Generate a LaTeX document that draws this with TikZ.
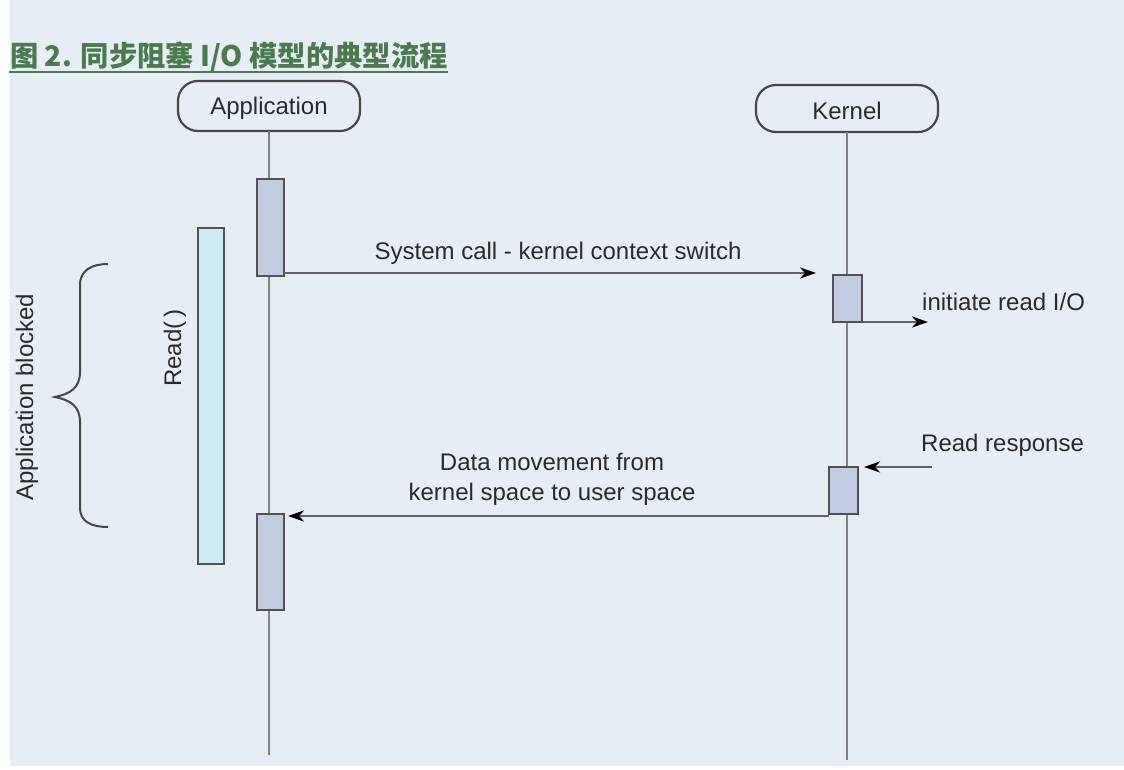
\documentclass[tikz,border=0pt]{standalone}
\usepackage{fontspec}
\setmainfont{Liberation Sans}
\newfontfamily\cjk{Noto Sans CJK SC}
\usetikzlibrary{arrows.meta}
\definecolor{bg}{HTML}{E6EDF4}
\definecolor{actfill}{HTML}{C1CBE1}
\definecolor{readfill}{HTML}{CDEBF2}
\definecolor{titlegreen}{HTML}{4A7A4E}
\definecolor{txt}{HTML}{2A2A2A}
\begin{document}
\begin{tikzpicture}[x=1pt,y=-1pt,
  lbl/.style={font=\fontsize{24}{30}\selectfont, text=txt, inner sep=0pt},
  life/.style={draw=black!50, line width=2.4pt},
  actbox/.style={draw=black!68, fill=actfill, line width=2.2pt, minimum width=27pt, inner sep=0pt, outer sep=0pt},
  msg/.style={draw=black!62, line width=2.4pt, -{Stealth[length=16pt,width=11pt,inset=5pt,color=black,fill=black]}},
  headbox/.style={draw=black!72, line width=2.2pt, rounded corners=20pt, fill=bg, minimum width=182pt, inner sep=0pt, outer sep=0pt, font=\fontsize{24}{30}\selectfont, text=txt},
  bracestyle/.style={draw=black!72, line width=2pt}
]
\useasboundingbox (0,0) rectangle (1124,770);
\fill[white] (0,0) rectangle (1124,770);
\fill[bg] (10,0) rectangle (1124,766);

% title
\node[anchor=base west, text=titlegreen, font=\cjk\bfseries\fontsize{28.3}{32}\selectfont, inner sep=0pt] (title) at (10,67) {图 2. 同步阻塞 I/O 模型的典型流程};
\draw[titlegreen, line width=2.2pt] ([xshift=-1pt,yshift=-5pt]title.base west) -- ([yshift=-5pt]title.base east);

% heads
\node[headbox, minimum height=50pt, text height=23pt, text depth=5pt] (app) at (269,106) {Application};
\node[headbox, minimum height=47pt, text height=23pt, text depth=0pt] (ker) at (847,108.5) {Kernel};
\coordinate (appEnd) at (269,755);
\coordinate (kerEnd) at (847,760);
\draw[life] (app.south) -- (appEnd);
\draw[life] (ker.south) -- (kerEnd);

% activations
\node[actbox, minimum height=97pt] (act1) at (270.5,227.5) {};
\node[actbox, minimum height=96pt] (act2) at (270.5,562) {};
\node[actbox, minimum width=29pt, minimum height=47pt] (kact1) at (847.5,298.5) {};
\node[actbox, minimum width=29pt, minimum height=47pt] (kact2) at (843.5,490.5) {};

% Read bar
\node[draw=black!68, fill=readfill, line width=2.2pt, minimum width=26pt, minimum height=336pt, inner sep=0pt, outer sep=0pt] (readbar) at (211,396) {};
\node[lbl, rotate=90] (readlbl) at (175,348) {Read(\,)};

% brace
\coordinate (brTop) at (108,264);
\coordinate (brTip) at (55,397);
\coordinate (brBot) at (108,527);
\draw[bracestyle] (brTop) .. controls (92,264) and (80,270) .. (80,285) -- (80,372)
  .. controls (80,388) and (70,394) .. (brTip)
  .. controls (70,400) and (80,406) .. (80,422) -- (80,508)
  .. controls (80,522) and (92,527) .. (brBot);
\node[lbl, rotate=90] (blocked) at (27,397) {Application blocked};

% messages
\draw[msg] ([yshift=3pt]act1.south east) -- ([xshift=-17pt,yshift=2pt]kact1.north west);
\node[lbl] (syslbl) at (558,253) {System call - kernel context switch};

\coordinate (iniEnd) at (928,322);
\draw[msg] (kact1.south east) -- (iniEnd);
\node[lbl, anchor=west] (inilbl) at (922,302) {initiate read I/O};

\coordinate (rrStart) at (932,467);
\draw[msg] (rrStart) -- ([xshift=6pt]kact2.north east);
\node[lbl, anchor=west] (rrlbl) at (921,445) {Read response};

\draw[msg] ([yshift=-2pt]kact2.south west) -- ([xshift=4pt,yshift=-2pt]act2.north east);
\node[lbl, align=center] (datalbl) at (552,479) {Data movement from\\kernel space to user space};
\end{tikzpicture}
\end{document}
